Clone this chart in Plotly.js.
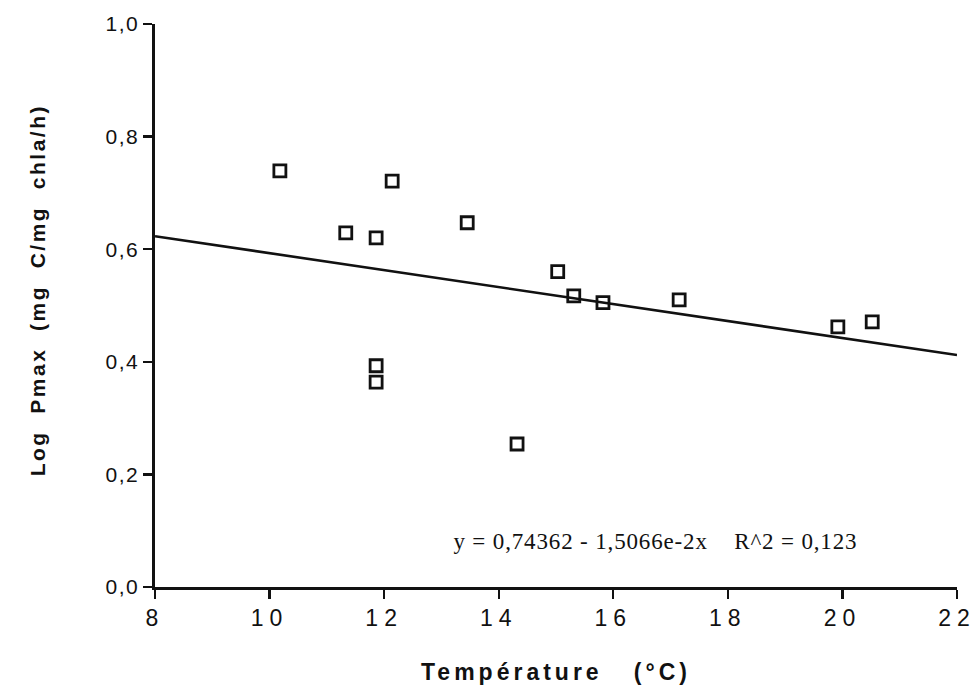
<!DOCTYPE html>
<html>
<head>
<meta charset="utf-8">
<script src="https://cdn.plot.ly/plotly-3.0.1.min.js"></script>
<style>
  html, body { margin: 0; padding: 0; background: #ffffff; }
  #chart { width: 977px; height: 699px; }
  /* typewriter-like spacing of the axis lettering */
  #chart .xtick text { letter-spacing: 6px; }
  #chart .ytick text { letter-spacing: 1.5px; }
  #chart .xtitle { letter-spacing: 4px; }
  #chart .annotation-text.ylab { letter-spacing: 2.5px; }
  #chart .annotation-text.eq { letter-spacing: 0.85px; }
</style>
</head>
<body>
<div id="chart"></div>
<script>
// Water temperature (°C) and log of maximum photosynthetic rate
const temperature = [10.18, 11.33, 11.86, 12.14, 13.45, 11.86, 11.86, 14.32, 15.03, 15.31, 15.82, 17.15, 19.92, 20.52];
const logPmax     = [0.739, 0.629, 0.620, 0.721, 0.647, 0.393, 0.364, 0.254, 0.560, 0.517, 0.505, 0.510, 0.462, 0.471];

// Least-squares fit: y = intercept + slope * x
const intercept = 0.74362;
const slope = -1.5066e-2;
const fitX = [8, 22];
const fitY = fitX.map(x => intercept + slope * x);

const xTicks = [8, 10, 12, 14, 16, 18, 20, 22];
const yTicks = [0, 0.2, 0.4, 0.6, 0.8, 1.0];

const traces = [
  {
    x: fitX, y: fitY, mode: 'lines', type: 'scatter',
    line: { color: '#111111', width: 2.6 },
    hoverinfo: 'skip', cliponaxis: false
  },
  {
    x: temperature, y: logPmax, mode: 'markers', type: 'scatter',
    marker: { symbol: 'square-open', size: 12, color: '#111111', line: { width: 2.8, color: '#111111' } },
    cliponaxis: false
  }
];

const sans = 'Liberation Sans, Arial, sans-serif';

const layout = {
  width: 977, height: 699,
  margin: { l: 155, r: 20, t: 24, b: 112 },
  paper_bgcolor: '#ffffff', plot_bgcolor: '#ffffff',
  separators: ', ',
  showlegend: false,
  xaxis: {
    range: [8, 22], tickvals: xTicks, tickformat: 'd',
    showgrid: false, zeroline: false,
    showline: true, linecolor: '#111111', linewidth: 2.6,
    ticks: 'outside', ticklen: 9, tickwidth: 2.4, tickcolor: '#111111',
    tickfont: { family: sans, size: 23, color: '#111111' },
    title: {
      text: 'Température&nbsp;&nbsp;&nbsp;(°C)',
      font: { family: sans, size: 23, color: '#111111', weight: 'bold' },
      standoff: 34
    }
  },
  yaxis: {
    range: [0, 1], tickvals: yTicks, tickformat: '.1f',
    showgrid: false, zeroline: false,
    showline: true, linecolor: '#111111', linewidth: 2.6,
    ticks: 'outside', ticklen: 9, tickwidth: 2.4, tickcolor: '#111111',
    tickfont: { family: sans, size: 21, color: '#111111' }
  },
  annotations: [
    {
      // vertical axis label, placed slightly above the axis midpoint
      x: -0.147, y: 0.5275, xref: 'paper', yref: 'paper',
      xanchor: 'center', yanchor: 'middle', textangle: -90,
      text: 'Log&nbsp;&nbsp;Pmax&nbsp;&nbsp;(mg&nbsp;&nbsp;C/mg&nbsp;&nbsp;chla/h)',
      showarrow: false,
      font: { family: sans, size: 21, color: '#111111', weight: 'bold' }
    },
    {
      x: 13.47, y: 0.08, xref: 'x', yref: 'y', xanchor: 'left', yanchor: 'middle',
      text: 'y = 0,74362 - 1,5066e-2x&nbsp;&nbsp;&nbsp;&nbsp;R^2 = 0,123',
      showarrow: false,
      font: { family: 'Liberation Serif, Times New Roman, serif', size: 23, color: '#111111' }
    }
  ]
};

Plotly.newPlot('chart', traces, layout, { displayModeBar: false, staticPlot: true }).then(gd => {
  // tag the two annotations so their letter spacing can be styled separately
  const ann = gd.querySelectorAll('.annotation-text');
  if (ann[0]) ann[0].classList.add('ylab');
  if (ann[1]) ann[1].classList.add('eq');
});
</script>
</body>
</html>
